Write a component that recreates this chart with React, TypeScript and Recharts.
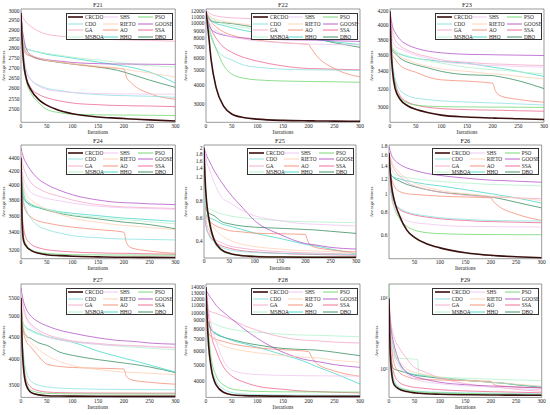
import React from 'react';
import { LineChart, Line, XAxis, YAxis, ReferenceArea } from 'recharts';

const SERIES = ['CRCDO', 'SHS', 'PSO', 'CDO', 'RIETO', 'GOOSE', 'GA', 'AO', 'SSA', 'MSBOA', 'HHO', 'DBO'];
const COLORS = ['#3a0f0f', '#efc3ef', '#6ad46a', '#86dfe0', '#fccfb0', '#b04cc4', '#f5a3c7', '#f4876e', '#ee5f8a', '#aef0c8', '#3fd6c6', '#2f8a5a'];
const WIDTHS = [1.6, 0.75, 0.75, 0.75, 0.75, 0.75, 0.75, 0.75, 0.75, 0.75, 0.75, 0.75];

const ITERS = [0, 2, 5, 10, 20, 35, 50, 75, 100, 150, 200, 205, 215, 250, 300];
const ITERS_F29 = [0, 2, 5, 10, 20, 35, 50, 56, 59, 100, 150, 200, 205, 215, 250, 300];
const X_TICKS = [0, 50, 100, 150, 200, 250, 300];
const X_TICKS_F26 = [50, 100, 150, 200, 250, 300];

const F21_TICKS = [2500, 2550, 2600, 2650, 2700, 2750, 2800, 2850, 2900, 2950, 3000];
const F22_TICKS = [3000, 4000, 5000, 6000, 7000, 8000, 9000, 10000, 11000, 12000];
const F23_TICKS = [3000, 3200, 3400, 3600, 3800, 4000, 4200];
const F24_TICKS = [3200, 3400, 3600, 3800, 4000, 4200, 4400];
const F25_TICKS = [0.4, 0.6, 0.8, 1, 1.2, 1.4, 1.6, 1.8, 2];
const F26_TICKS = [0.6, 0.8, 1, 1.2, 1.4, 1.6, 1.8];
const F27_TICKS = [3500, 4000, 4500, 5000, 5500];
const F28_TICKS = [4000, 5000, 6000, 7000, 8000, 9000, 10000, 11000, 12000, 13000, 14000];
const F29_TICKS = [1000, 10000];

// series order: CRCDO, SHS, PSO, CDO, RIETO, GOOSE, GA, AO, SSA, MSBOA, HHO, DBO
const F21 = [
  [2990, 2850, 2730, 2650, 2590, 2545, 2520, 2495, 2480, 2465, 2458, 2457, 2456, 2452, 2447],
  [2990, 2870, 2770, 2685, 2640, 2610, 2595, 2585, 2580, 2575, 2573, 2573, 2573, 2572, 2572],
  [2990, 2840, 2720, 2640, 2575, 2530, 2500, 2485, 2478, 2475, 2474, 2474, 2474, 2473, 2472],
  [2990, 2870, 2770, 2690, 2640, 2615, 2600, 2590, 2580, 2570, 2565, 2565, 2564, 2562, 2557],
  [2990, 2900, 2820, 2780, 2765, 2750, 2740, 2730, 2722, 2710, 2695, 2692, 2688, 2675, 2655],
  [3000, 2920, 2860, 2800, 2765, 2750, 2742, 2735, 2728, 2722, 2720, 2720, 2720, 2719, 2718],
  [2995, 2975, 2960, 2940, 2915, 2890, 2875, 2865, 2858, 2850, 2845, 2845, 2844, 2842, 2838],
  [2990, 2880, 2800, 2770, 2760, 2745, 2738, 2730, 2720, 2705, 2695, 2655, 2625, 2575, 2548],
  [2990, 2860, 2750, 2660, 2600, 2570, 2555, 2540, 2530, 2522, 2518, 2518, 2517, 2516, 2513],
  [2990, 2900, 2840, 2800, 2790, 2782, 2775, 2765, 2755, 2740, 2725, 2723, 2720, 2712, 2705],
  [2990, 2900, 2840, 2800, 2790, 2780, 2770, 2760, 2750, 2730, 2710, 2708, 2703, 2680, 2625],
  [2990, 2900, 2820, 2780, 2760, 2745, 2738, 2728, 2720, 2705, 2680, 2676, 2668, 2640, 2605],
];

const F22 = [
  [12000, 10500, 8500, 5800, 3800, 2880, 2580, 2440, 2390, 2345, 2330, 2329, 2327, 2320, 2315],
  [12000, 11300, 10500, 9800, 9000, 8500, 8200, 7900, 7700, 7500, 7350, 7345, 7335, 7300, 7250],
  [12000, 11000, 9500, 8200, 6800, 5300, 4700, 4400, 4300, 4230, 4200, 4198, 4195, 4180, 4150],
  [12000, 11000, 9800, 8500, 6900, 6100, 5800, 5350, 5200, 5050, 5000, 4998, 4995, 4980, 4950],
  [12000, 11700, 11400, 11000, 10600, 10300, 10100, 9900, 9700, 9500, 9300, 9290, 9270, 9150, 9000],
  [12000, 11000, 10000, 9200, 8700, 8400, 8200, 8050, 7950, 7850, 7800, 7798, 7795, 7730, 7650],
  [12200, 12000, 11800, 11500, 11200, 11000, 10900, 10800, 10700, 10500, 10300, 10290, 10270, 10150, 10000],
  [12000, 11500, 11000, 10300, 9500, 8800, 8400, 8000, 7800, 7500, 7300, 6900, 6200, 5100, 4500],
  [12000, 11200, 10200, 9200, 8000, 7000, 6500, 6000, 5700, 5300, 5100, 5095, 5090, 5050, 5000],
  [12000, 11600, 11200, 10800, 10400, 10000, 9700, 9400, 9200, 8800, 8500, 8480, 8450, 8300, 8100],
  [12000, 11500, 11000, 10500, 10000, 9700, 9400, 9000, 8700, 8200, 7900, 7880, 7850, 7600, 7300],
  [12000, 11300, 10700, 10400, 10200, 10100, 10000, 9700, 9400, 8300, 7950, 7930, 7900, 7500, 7000],
];

const F23 = [
  [4200, 3700, 3400, 3200, 3080, 3010, 2975, 2940, 2915, 2895, 2885, 2884, 2883, 2877, 2870],
  [4200, 4000, 3800, 3720, 3680, 3640, 3600, 3560, 3520, 3490, 3470, 3469, 3468, 3460, 3450],
  [4200, 3750, 3450, 3250, 3100, 3040, 3020, 3008, 3003, 3000, 2998, 2998, 2998, 2997, 2995],
  [4200, 3750, 3500, 3320, 3180, 3120, 3095, 3078, 3065, 3052, 3042, 3041, 3040, 3032, 3020],
  [4200, 3850, 3700, 3650, 3580, 3540, 3500, 3460, 3430, 3400, 3370, 3368, 3365, 3340, 3310],
  [4200, 4100, 3980, 3900, 3800, 3730, 3690, 3650, 3630, 3610, 3605, 3604, 3603, 3600, 3595],
  [4200, 4050, 3900, 3800, 3720, 3660, 3620, 3580, 3540, 3510, 3490, 3489, 3488, 3480, 3470],
  [4200, 3750, 3600, 3550, 3470, 3420, 3390, 3330, 3300, 3285, 3260, 3180, 3120, 3080, 3050],
  [4200, 3700, 3450, 3270, 3120, 3050, 3020, 2995, 2982, 2972, 2966, 2966, 2965, 2960, 2955],
  [4200, 3850, 3700, 3660, 3620, 3590, 3560, 3530, 3500, 3450, 3420, 3418, 3415, 3395, 3370],
  [4200, 3800, 3680, 3640, 3610, 3580, 3560, 3540, 3520, 3500, 3450, 3445, 3438, 3400, 3340],
  [4200, 3800, 3650, 3620, 3560, 3510, 3480, 3440, 3400, 3360, 3350, 3345, 3335, 3290, 3200],
];

const F24 = [
  [4400, 3550, 3300, 3240, 3190, 3160, 3145, 3135, 3128, 3122, 3118, 3118, 3117, 3116, 3115],
  [4500, 4250, 4100, 4000, 3900, 3850, 3820, 3790, 3760, 3720, 3700, 3699, 3698, 3690, 3680],
  [4400, 3600, 3350, 3260, 3200, 3170, 3160, 3150, 3145, 3143, 3142, 3142, 3142, 3141, 3140],
  [4400, 4000, 3800, 3680, 3560, 3470, 3430, 3390, 3360, 3335, 3320, 3320, 3319, 3315, 3310],
  [4500, 4200, 4000, 3880, 3800, 3730, 3680, 3620, 3570, 3520, 3480, 3478, 3475, 3455, 3430],
  [4550, 4480, 4400, 4320, 4200, 4080, 4010, 3930, 3870, 3800, 3765, 3764, 3762, 3750, 3740],
  [4500, 4350, 4250, 4150, 4030, 3950, 3900, 3850, 3800, 3740, 3710, 3709, 3708, 3700, 3690],
  [4450, 3950, 3750, 3650, 3580, 3530, 3510, 3480, 3460, 3430, 3400, 3280, 3220, 3185, 3160],
  [4400, 3700, 3450, 3330, 3260, 3220, 3200, 3185, 3175, 3165, 3160, 3160, 3159, 3155, 3150],
  [4500, 4150, 3950, 3820, 3750, 3710, 3680, 3640, 3610, 3580, 3550, 3548, 3545, 3525, 3500],
  [4500, 4100, 3900, 3780, 3720, 3700, 3680, 3650, 3630, 3600, 3570, 3568, 3565, 3550, 3530],
  [4450, 4000, 3820, 3780, 3740, 3700, 3670, 3630, 3600, 3560, 3520, 3517, 3512, 3490, 3440],
];

const F25 = [
  [2.0, 1.2, 0.8, 0.58, 0.41, 0.345, 0.325, 0.312, 0.308, 0.305, 0.304, 0.304, 0.304, 0.303, 0.303],
  [2.0, 1.85, 1.6, 1.4, 1.1, 0.85, 0.78, 0.68, 0.62, 0.57, 0.54, 0.539, 0.537, 0.53, 0.52],
  [2.0, 1.1, 0.75, 0.55, 0.4, 0.34, 0.322, 0.314, 0.31, 0.307, 0.306, 0.306, 0.306, 0.305, 0.305],
  [1.4, 0.6, 0.5, 0.44, 0.39, 0.36, 0.345, 0.335, 0.33, 0.325, 0.322, 0.322, 0.321, 0.32, 0.318],
  [1.4, 0.65, 0.6, 0.56, 0.5, 0.44, 0.41, 0.38, 0.365, 0.35, 0.34, 0.34, 0.339, 0.334, 0.328],
  [2.0, 1.9, 1.75, 1.6, 1.35, 1.1, 0.92, 0.72, 0.57, 0.45, 0.385, 0.382, 0.378, 0.36, 0.35],
  [1.5, 0.7, 0.55, 0.48, 0.42, 0.39, 0.37, 0.355, 0.345, 0.335, 0.328, 0.328, 0.327, 0.324, 0.32],
  [1.5, 0.66, 0.6, 0.57, 0.53, 0.5, 0.48, 0.47, 0.46, 0.455, 0.45, 0.4, 0.365, 0.345, 0.333],
  [1.4, 0.6, 0.5, 0.45, 0.4, 0.37, 0.355, 0.34, 0.333, 0.325, 0.32, 0.32, 0.319, 0.317, 0.315],
  [1.5, 0.78, 0.72, 0.7, 0.67, 0.64, 0.62, 0.6, 0.59, 0.57, 0.56, 0.56, 0.559, 0.555, 0.55],
  [1.5, 0.68, 0.62, 0.6, 0.58, 0.54, 0.52, 0.49, 0.46, 0.42, 0.38, 0.377, 0.372, 0.35, 0.322],
  [1.5, 0.72, 0.68, 0.65, 0.62, 0.56, 0.54, 0.52, 0.51, 0.5, 0.49, 0.489, 0.487, 0.475, 0.458],
];

const F26 = [
  [1.65, 1.35, 1.1, 0.93, 0.77, 0.64, 0.585, 0.54, 0.515, 0.485, 0.47, 0.469, 0.467, 0.462, 0.456],
  [1.5, 1.15, 0.95, 0.85, 0.77, 0.72, 0.7, 0.69, 0.68, 0.67, 0.668, 0.668, 0.667, 0.666, 0.665],
  [1.6, 1.2, 0.98, 0.85, 0.74, 0.67, 0.64, 0.62, 0.613, 0.608, 0.606, 0.606, 0.606, 0.605, 0.605],
  [1.5, 1.2, 1.0, 0.9, 0.84, 0.8, 0.78, 0.76, 0.745, 0.73, 0.72, 0.72, 0.719, 0.717, 0.715],
  [1.7, 1.6, 1.5, 1.4, 1.3, 1.2, 1.14, 1.08, 1.04, 1.0, 0.97, 0.968, 0.965, 0.95, 0.92],
  [1.78, 1.7, 1.6, 1.52, 1.44, 1.37, 1.33, 1.28, 1.25, 1.21, 1.18, 1.178, 1.176, 1.165, 1.15],
  [1.7, 1.55, 1.45, 1.35, 1.25, 1.15, 1.1, 1.05, 1.02, 0.98, 0.96, 0.959, 0.958, 0.95, 0.94],
  [1.6, 1.3, 1.2, 1.1, 1.03, 1.0, 0.99, 0.98, 0.97, 0.96, 0.95, 0.91, 0.86, 0.78, 0.72],
  [1.5, 1.2, 1.0, 0.9, 0.83, 0.79, 0.77, 0.75, 0.735, 0.72, 0.71, 0.71, 0.709, 0.705, 0.7],
  [1.7, 1.5, 1.35, 1.28, 1.24, 1.22, 1.2, 1.18, 1.16, 1.14, 1.12, 1.119, 1.118, 1.11, 1.1],
  [1.6, 1.3, 1.25, 1.22, 1.2, 1.17, 1.15, 1.12, 1.1, 1.05, 1.0, 0.995, 0.985, 0.95, 0.89],
  [1.6, 1.3, 1.25, 1.21, 1.17, 1.12, 1.09, 1.05, 1.02, 0.99, 0.96, 0.955, 0.945, 0.9, 0.84],
];

const F27 = [
  [5500, 4400, 3800, 3500, 3360, 3320, 3305, 3300, 3298, 3296, 3295, 3295, 3295, 3294, 3294],
  [5700, 5400, 5150, 4950, 4750, 4600, 4500, 4420, 4380, 4320, 4290, 4289, 4288, 4275, 4260],
  [5500, 4500, 3900, 3550, 3400, 3360, 3345, 3340, 3338, 3337, 3336, 3336, 3336, 3335, 3335],
  [5500, 4600, 4100, 3750, 3560, 3490, 3460, 3440, 3430, 3420, 3415, 3415, 3414, 3412, 3410],
  [5500, 5000, 4700, 4500, 4350, 4200, 4080, 3950, 3870, 3790, 3740, 3738, 3735, 3715, 3690],
  [5800, 5600, 5400, 5200, 5000, 4850, 4760, 4650, 4580, 4470, 4400, 4397, 4392, 4350, 4325],
  [5800, 5500, 5250, 5000, 4800, 4650, 4550, 4460, 4400, 4340, 4300, 4298, 4295, 4270, 4240],
  [5500, 4900, 4600, 4400, 4250, 4050, 3900, 3850, 3830, 3815, 3800, 3660, 3590, 3545, 3510],
  [5500, 4500, 3950, 3600, 3450, 3390, 3370, 3360, 3355, 3352, 3351, 3351, 3351, 3350, 3350],
  [5600, 5000, 4800, 4700, 4620, 4550, 4500, 4430, 4380, 4320, 4270, 4267, 4263, 4235, 4200],
  [5600, 5000, 4800, 4720, 4650, 4560, 4500, 4430, 4370, 4170, 4020, 4005, 3980, 3880, 3740],
  [5500, 4900, 4650, 4520, 4450, 4350, 4300, 4150, 4080, 3990, 3920, 3912, 3900, 3840, 3730],
];

const F28 = [
  [14000, 9500, 6500, 4800, 3800, 3450, 3350, 3310, 3295, 3285, 3280, 3280, 3279, 3277, 3275],
  [14000, 12500, 10500, 8500, 6800, 5200, 4650, 4450, 4380, 4330, 4310, 4309, 4308, 4300, 4290],
  [14000, 10000, 7500, 5500, 4300, 3800, 3620, 3530, 3500, 3480, 3475, 3475, 3474, 3470, 3468],
  [14000, 10000, 7000, 5000, 4000, 3600, 3450, 3380, 3350, 3335, 3328, 3328, 3327, 3324, 3320],
  [10000, 8000, 7500, 7200, 6800, 6400, 6200, 6000, 5850, 5650, 5500, 5495, 5480, 5300, 5170],
  [13500, 13200, 12700, 12100, 11000, 10000, 9200, 8000, 7100, 5900, 5300, 5270, 5220, 5000, 4820],
  [11000, 10500, 10300, 10100, 9900, 9500, 9100, 8400, 7900, 7200, 6900, 6890, 6870, 6750, 6670],
  [10000, 8000, 7600, 7300, 7000, 6800, 6600, 6400, 6250, 6100, 5950, 5600, 5100, 4600, 4280],
  [14000, 12000, 9500, 7500, 6000, 4800, 4300, 3950, 3750, 3600, 3500, 3497, 3492, 3460, 3430],
  [10000, 9000, 8900, 8800, 8500, 8200, 8000, 7800, 7700, 7500, 7400, 7398, 7395, 7330, 7250],
  [11000, 9000, 8500, 8000, 7600, 7200, 6900, 6600, 6300, 5700, 5100, 5020, 4880, 4450, 3860],
  [11000, 9200, 8700, 8000, 7500, 7200, 7000, 6700, 6500, 6200, 6100, 6090, 6070, 5900, 5630],
];

const F29 = [
  [10000, 2000, 900, 600, 520, 480, 460, 456, 454, 440, 433, 430, 430, 429, 427, 426],
  [10000, 4000, 2200, 1500, 1100, 850, 720, 700, 690, 620, 580, 555, 553, 550, 530, 510],
  [16000, 2500, 1000, 650, 540, 500, 480, 476, 474, 460, 450, 445, 445, 444, 440, 436],
  [10000, 2500, 1100, 700, 560, 510, 490, 486, 484, 470, 460, 455, 455, 454, 450, 445],
  [10000, 4500, 2700, 1700, 1300, 1000, 900, 880, 870, 760, 690, 650, 645, 640, 610, 570],
  [8000, 5000, 3300, 2200, 1280, 900, 780, 760, 750, 650, 600, 575, 573, 570, 555, 540],
  [10000, 6000, 4000, 2800, 2000, 1400, 1050, 1000, 980, 750, 620, 560, 555, 550, 515, 484],
  [10000, 3500, 2000, 1200, 900, 780, 730, 725, 722, 700, 685, 670, 610, 580, 560, 545],
  [10000, 3000, 1400, 850, 650, 580, 550, 545, 542, 510, 490, 478, 477, 476, 470, 461],
  [10000, 4000, 2200, 1500, 1420, 1400, 1380, 1360, 850, 770, 740, 720, 718, 715, 700, 686],
  [10000, 5000, 3000, 1800, 1200, 900, 840, 830, 825, 760, 700, 650, 645, 640, 600, 565],
  [8000, 2000, 1200, 1000, 950, 880, 820, 805, 800, 740, 690, 650, 645, 640, 600, 552],
];

const FONT = "'Liberation Serif', 'Times New Roman', serif";
const SUP: Record<string, string> = { '0': '⁰', '1': '¹', '2': '²', '3': '³', '4': '⁴', '5': '⁵' };
const powFmt = (v: number) => '10' + String(Math.round(Math.log10(v))).split('').map((c) => SUP[c] || c).join('');

type Spec = {
  title: string; L: number; T: number; R: number; B: number;
  domain: [number, number]; yTicks: number[]; xTicks: number[]; iters: number[];
  values: number[][]; fmt?: (v: number) => string; ylabOff: number;
};

const PANELS: Spec[] = [
  { title: 'F21', L: 20.7, T: 9.4, R: 175, B: 122.7, domain: [2441, 3013], yTicks: F21_TICKS, xTicks: X_TICKS, iters: ITERS, values: F21, ylabOff: 17 },
  { title: 'F22', L: 206, T: 9.4, R: 360, B: 122.7, domain: [2280, 12430], yTicks: F22_TICKS, xTicks: X_TICKS, iters: ITERS, values: F22, ylabOff: 20 },
  { title: 'F23', L: 390, T: 9.4, R: 544, B: 122.7, domain: [2842, 4235], yTicks: F23_TICKS, xTicks: X_TICKS, iters: ITERS, values: F23, ylabOff: 18 },
  { title: 'F24', L: 20.7, T: 145, R: 175, B: 258.7, domain: [3102, 4597], yTicks: F24_TICKS, xTicks: X_TICKS, iters: ITERS, values: F24, ylabOff: 17 },
  { title: 'F25', L: 204, T: 145, R: 356, B: 258, domain: [0.3, 2.094], yTicks: F25_TICKS, xTicks: X_TICKS, iters: ITERS, values: F25, ylabOff: 18 },
  { title: 'F26', L: 389, T: 145, R: 541.7, B: 258.7, domain: [0.451, 1.815], yTicks: F26_TICKS, xTicks: X_TICKS_F26, iters: ITERS, values: F26, ylabOff: 17 },
  { title: 'F27', L: 20.7, T: 284.3, R: 175, B: 397.7, domain: [3277, 5918], yTicks: F27_TICKS, xTicks: X_TICKS, iters: ITERS, values: F27, ylabOff: 17 },
  { title: 'F28', L: 206, T: 284.3, R: 360, B: 397.7, domain: [3231, 14640], yTicks: F28_TICKS, xTicks: X_TICKS, iters: ITERS, values: F28, ylabOff: 20 },
  { title: 'F29', L: 389, T: 284.3, R: 541.7, B: 397.7, domain: [397, 16000], yTicks: F29_TICKS, xTicks: X_TICKS, iters: ITERS_F29, values: F29, fmt: powFmt, ylabOff: 12.5 },
];

const tickStyle = { fontSize: 5.5, fill: '#222', fontFamily: FONT };

function Panel({ p }: { p: Spec }) {
  const yw = 24, mt = 6, xh = 14, mr = 6;
  const left = p.L - yw;
  const top = p.T - mt;
  const w = p.R - p.L + yw + mr;
  const h = p.B - p.T + mt + xh;
  const rows = p.iters.map((x, i) => {
    const r: Record<string, number> = { x };
    p.values.forEach((s, k) => { r['s' + k] = s[i]; });
    return r;
  });
  const order = SERIES.map((_, k) => k).reverse();
  const mid = (p.T + p.B) / 2;
  const legW = 107, legH = 27;
  return (
    <>
      <div style={{ position: 'absolute', left, top, width: w, height: h }}>
        <LineChart width={w} height={h} data={rows} margin={{ top: mt, right: mr, bottom: 0, left: 0 }}>
          <XAxis dataKey="x" type="number" domain={[0, 300]} ticks={p.xTicks} interval={0} allowDataOverflow
            tick={tickStyle} tickLine={false} axisLine={false} tickSize={0} tickMargin={1.5} height={xh} />
          <YAxis type="number" scale="log" domain={p.domain} ticks={p.yTicks} interval={0} allowDataOverflow
            width={yw} tick={tickStyle} tickFormatter={p.fmt} tickLine={false} axisLine={false} tickSize={0} tickMargin={1.5} />
          {order.map((k) => (
            <Line key={k} dataKey={'s' + k} name={SERIES[k]} type="monotone" stroke={COLORS[k]} strokeWidth={WIDTHS[k]}
              dot={false} activeDot={false} isAnimationActive={false} />
          ))}
          <ReferenceArea x1={0} x2={300} y1={p.domain[0]} y2={p.domain[1]} fill="none" fillOpacity={0} stroke="#555" strokeWidth={0.6} />
        </LineChart>
      </div>
      <div style={{ position: 'absolute', left: p.L, width: p.R - p.L, top: p.T - 8.3, textAlign: 'center', fontSize: 6.3, lineHeight: '7px', color: '#222' }}>{p.title}</div>
      <div style={{ position: 'absolute', left: p.L, width: p.R - p.L, top: p.B + 6.6, textAlign: 'center', fontSize: 5.5, lineHeight: '6px', color: '#222' }}>Iterations</div>
      <div style={{ position: 'absolute', left: p.L - p.ylabOff - 40, top: mid - 3, width: 80, height: 6, textAlign: 'center', fontSize: 5, lineHeight: '6px', color: '#222', transform: 'rotate(-90deg)' }}>Average fitness</div>
      <div style={{ position: 'absolute', left: p.R - 2.5 - legW, top: p.T + 3.3, width: legW, height: legH, background: '#fff', border: '0.6px solid #333', boxSizing: 'border-box' }}>
        {SERIES.map((name, k) => {
          const col = k % 3, row = Math.floor(k / 3);
          return (
            <div key={name} style={{ position: 'absolute', left: col * 35 + 1.5, top: row * 6.5 + 0.3, height: 6.5, display: 'flex', alignItems: 'center' }}>
              <svg width={15} height={6} style={{ display: 'block' }}>
                <line x1={0} y1={3} x2={15} y2={3} stroke={COLORS[k]} strokeWidth={k === 0 ? 1.6 : 0.9} />
              </svg>
              <span style={{ marginLeft: 2, fontSize: 5.3, lineHeight: '6px', color: '#222' }}>{name}</span>
            </div>
          );
        })}
      </div>
    </>
  );
}

export default function App() {
  return (
    <div style={{ position: 'absolute', left: 0, top: 0, width: 550, height: 415, background: '#fff', fontFamily: FONT, overflow: 'hidden' }}>
      {PANELS.map((p) => <Panel key={p.title} p={p} />)}
    </div>
  );
}
